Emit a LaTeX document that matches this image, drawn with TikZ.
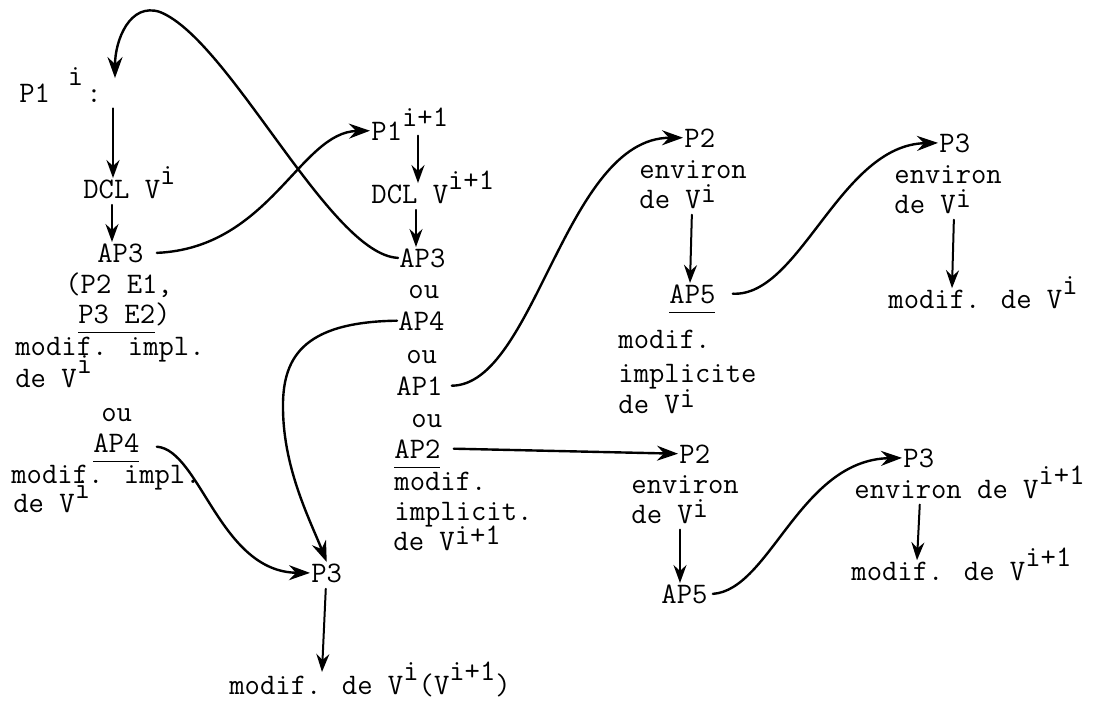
\documentclass[tikz,border=0pt]{standalone}
\usetikzlibrary{arrows.meta}
\newcommand{\hisup}[1]{\raisebox{0.45em}[0pt][0pt]{#1}}
\newcommand{\losup}[1]{\raisebox{0.2em}[0pt][0pt]{#1}}
\newcommand{\ul}[1]{\raisebox{0pt}[\height][0pt]{\underline{\vphantom{y}#1}}}
\begin{document}
\begin{tikzpicture}[x=0.5pt,y=-0.5pt,font=\fontsize{14.9}{16}\selectfont\ttfamily, line join=round, line cap=round,
	txt/.style={anchor=base west,inner sep=0.5pt},
	vert/.style={-{Stealth[length=9pt,width=6.5pt,inset=3pt]},line width=1pt,shorten <=2.5pt},
	curv/.style={-{Stealth[length=10.5pt,width=7.5pt,inset=3.5pt]},line width=1.2pt}]
	\useasboundingbox (0,0) rectangle (1093,702);
	% left column
	\node[txt] (p1i) at (18,102) {P1\kern0.6em\raisebox{0.55em}[0pt][0pt]{i}\kern0.1em:};
	\node[txt] (dcli) at (82,198) {DCL V\hisup{i}};
	\node[txt] (ap3l) at (96,262) {AP3};
	\node[txt] (e1) at (64,293) {(P2 E1,};
	\node[txt] (e2) at (77,323) {\ul{P3 E2})};
	\node[txt] (mil) at (14,355) {modif. impl.};
	\node[txt] (dvl) at (14,387) {de V\hisup{i}};
	\node[txt] (oul) at (100,421) {ou};
	\node[txt] (ap4l) at (92,452) {\ul{AP4}};
	\node[txt] (mil2) at (10,483) {modif. impl.};
	\node[txt] (dvl2) at (12,512) {de V\hisup{i}};
	% middle column
	\node[txt] (p1n) at (370,140) {P1\hisup{i+1}};
	\node[txt] (dcln) at (370,203) {DCL V\hisup{i+1}};
	\node[txt] (ap3m) at (398,267) {AP3};
	\node[txt] (ou1) at (407,298) {ou};
	\node[txt] (ap4m) at (397,330) {AP4};
	\node[txt] (ou2) at (405,363) {ou};
	\node[txt] (ap1m) at (395,395) {AP1};
	\node[txt] (ou3) at (410,427) {ou};
	\node[txt] (ap2m) at (393,458) {\ul{AP2}};
	\node[txt] (mim) at (393,490) {modif.};
	\node[txt] (ipm) at (393,520) {implicit.};
	\node[txt] (dvm) at (392,550) {de V\losup{i+1}};
	\node[txt] (p3m) at (310,582) {P3};
	\node[txt] (mdm) at (228,694) {modif. de V\hisup{i}(V\hisup{i+1})};
	% P2 upper
	\node[txt] (p2u) at (683,147) {P2};
	\node[txt] (env2u) at (638,178) {environ};
	\node[txt] (dv2u) at (638,208) {de V\losup{i}};
	\node[txt] (ap5u) at (668,303) {\ul{AP5}};
	\node[txt] (mi5) at (617,348) {modif.};
	\node[txt] (ip5) at (617,382) {implicite};
	\node[txt] (dv5) at (617,413) {de V\losup{i}};
	% P2 lower
	\node[txt] (p2l) at (678,463) {P2};
	\node[txt] (env2l) at (630,493) {environ};
	\node[txt] (dv2l) at (630,523) {de V\losup{i}};
	\node[txt] (ap5l) at (660,603) {AP5};
	% P3 right
	\node[txt] (p3u) at (938,152) {P3};
	\node[txt] (env3u) at (893,183) {environ};
	\node[txt] (dv3u) at (893,213) {de V\losup{i}};
	\node[txt] (md3u) at (887,308) {modif. de V\hisup{i}};
	\node[txt] (p3l) at (902,467) {P3};
	\node[txt] (env3l) at (853,498) {environ de V\hisup{i+1}};
	\node[txt] (md3l) at (850,580) {modif. de V\hisup{i+1}};
	% straight arrows
	\draw[vert] (p1i.south -| 113,0) -- (dcli.north -| 113,0);
	\draw[vert] (dcli.south -| 112,0) -- (ap3l.north -| 112,0);
	\draw[vert] (p1n.center -| 418,0) -- (dcln.north -| 418,0);
	\draw[vert] (dcln.south -| 416,0) -- (ap3m.north -| 416,0);
	\draw[vert] (p3m.south -| 326,0) -- (mdm.north -| 322,0);
	\draw[vert] (dv2u.south -| 692,0) -- (ap5u.north -| 690,0);
	\draw[vert] (dv2l.south -| 680,0) -- (ap5l.north -| 680,0);
	\draw[vert] (dv3u.south -| 954,0) -- (md3u.north -| 952,0);
	\draw[vert] (env3l.south -| 920,0) -- (md3l.north -| 917,0);
	% curved arrows
	\draw[curv] (ap3m.west) .. controls (330,255) and (230,40) .. (160,12) .. controls (130,2) and (115,40) .. ([yshift=2pt]p1i.north -| 115,0);
	\draw[curv] ([xshift=6pt]ap3l.east) .. controls (270,248) and (300,132) .. (p1n.west);
	\draw[curv] (ap4m.west) .. controls (300,322) and (282,360) .. (283,410) .. controls (284,470) and (310,520) .. (p3m.north);
	\draw[curv] ([xshift=8pt,yshift=-2pt]ap4l.east) .. controls (200,450) and (220,572) .. (p3m.west);
	\draw[curv] ([xshift=4pt]ap1m.east) .. controls (535,385) and (565,138) .. (p2u.west);
	\draw[curv] ([xshift=6pt]ap2m.east) -- (p2l.west);
	\draw[curv] ([xshift=8pt]ap5u.east) .. controls (800,297) and (840,145) .. (p3u.west);
	\draw[curv] ([xshift=2pt]ap5l.east) .. controls (770,590) and (800,460) .. (p3l.west);
\end{tikzpicture}
\end{document}
